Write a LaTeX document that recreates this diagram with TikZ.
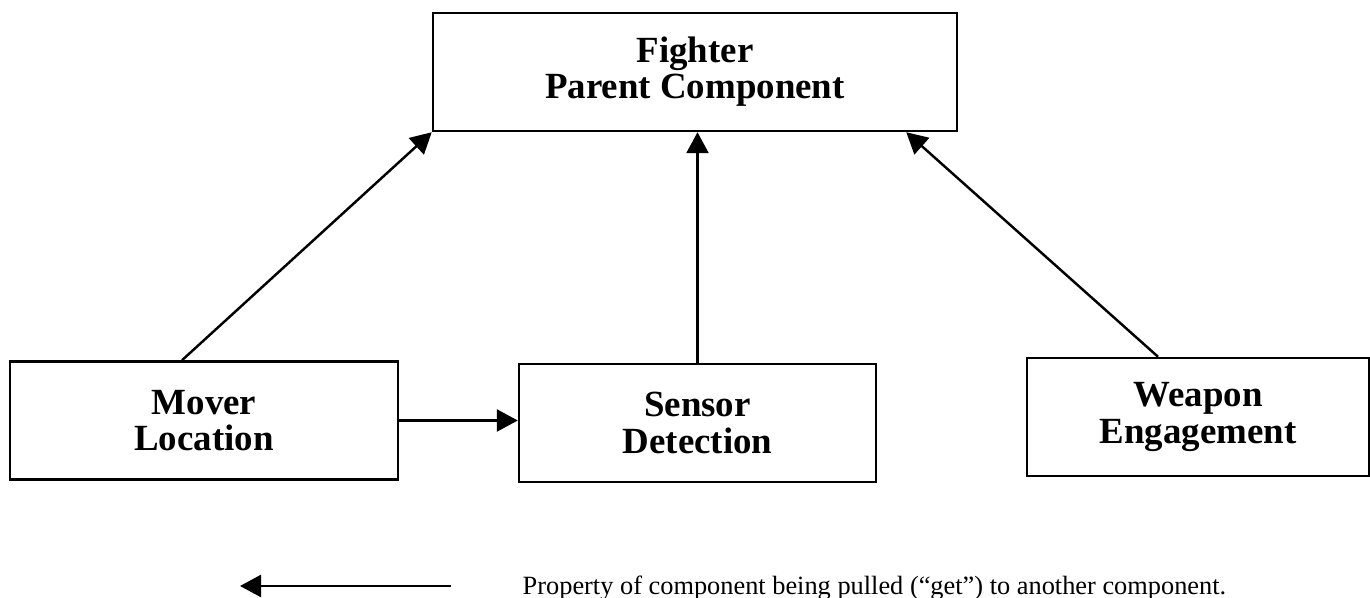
\documentclass[tikz,border=0pt]{standalone}
\usepackage{fontspec}
\setmainfont{Liberation Serif}
\usetikzlibrary{arrows.meta}

\begin{document}
\begin{tikzpicture}[x=0.1mm,y=-0.1mm]

\tikzstyle{comp}=[rectangle,draw,line width=0.7pt,minimum height=11.8mm,align=center,
  font=\fontsize{10.5pt}{10.3pt}\selectfont\bfseries]
\tikzstyle{get}=[line width=0.7pt,-{Triangle[length=2.1mm,width=2.2mm]}]

\useasboundingbox (0,0) rectangle (1370,598);

\node[comp,minimum width=52.4mm] (fighter) at ( 695,72)    {Fighter\\Parent Component} ;
\node[comp,minimum width=38.8mm] (mover)   at ( 204,420.5) {Mover\\Location} ;
\node[comp,minimum width=35.7mm] (sensor)  at (697.5,423)  {Sensor\\Detection} ;
\node[comp,minimum width=34.2mm] (weapon)  at (1198,417)   {Weapon\\Engagement} ;

\draw [get] ([xshift=-2.2mm]mover.north) -- (fighter.south west);
\draw [get] (sensor.north) -- (sensor.north |- fighter.south);
\draw [get] ([xshift=-4mm]weapon.north) -- ([xshift=-5.2mm]fighter.south east);
\draw [get] (mover.east) -- (mover.east -| sensor.west);

\coordinate (legfrom) at (451,586) ;
\coordinate (legto)   at (240,586) ;
\node[anchor=base west,inner sep=0pt,font=\fontsize{7.5pt}{8pt}\selectfont] (legend) at (522,595)
  {Property of component being pulled (“get”) to another component.} ;
\draw [get] (legfrom) -- (legto);

\end{tikzpicture}
\end{document}
